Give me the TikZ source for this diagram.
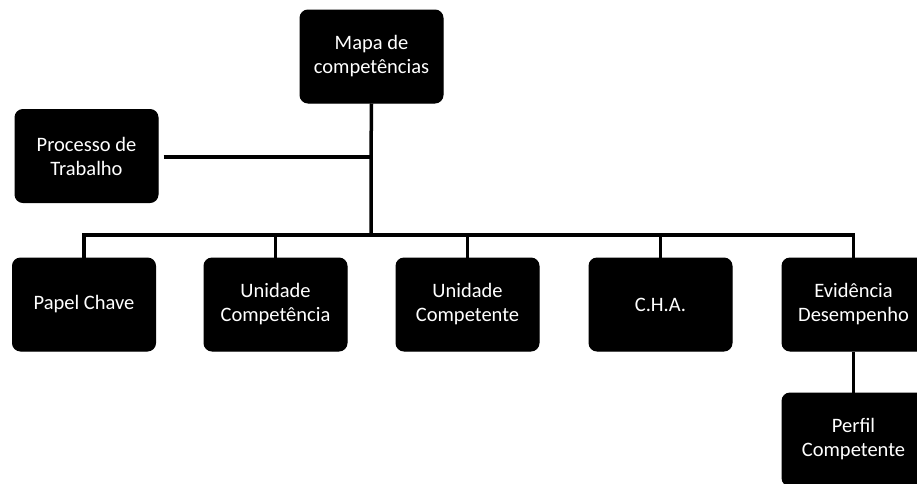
\documentclass[tikz,border=0pt]{standalone}
\usepackage{fontspec}
\setmainfont{Carlito}
\begin{document}
\begin{tikzpicture}[x=1pt,y=-1pt,
  box/.style={draw=black,fill=black,rounded corners=8pt,minimum width=143pt,minimum height=93pt,
    text=white,align=center,font=\fontsize{20.5}{24}\selectfont,inner sep=0pt,line width=1pt},
  conn/.style={line width=3.5pt,draw=black}]
\useasboundingbox (0,0) rectangle (917,483);
\begin{scope}
\clip (0,0) rectangle (917,483);
\node[box] (mapa) at (371.5,56.5) {Mapa de\\competências};
\node[box] (proc) at (86.5,156) {Processo de\\Trabalho};
\node[box] (papel) at (84,304.5) {Papel Chave};
\node[box] (ucomp) at (275.5,304.5) {Unidade\\Competência};
\node[box] (ucte) at (467.5,304.5) {Unidade\\Competente};
\node[box] (cha) at (660.5,304.5) {C.H.A.};
\node[box] (evid) at (853.5,304.5) {Evidência\\Desempenho};
\node[box] (perfil) at (853.5,439.5) {Perfil\\Competente};
\coordinate (j1) at (371,157);
\coordinate (j2) at (371,235);
\draw[conn] (mapa.south) -- (j1) -- (j2);
\draw[conn] (proc.east) ++(5,1) -- (j1);
\draw[conn] (papel.north) -- (papel.north |- j2) -- (evid.north |- j2) -- (evid.north);
\draw[conn] (ucomp.north) -- (ucomp.north |- j2);
\draw[conn] (ucte.north) -- (ucte.north |- j2);
\draw[conn] (cha.north) -- (cha.north |- j2);
\draw[conn] (evid.south) -- (perfil.north);
\end{scope}
\end{tikzpicture}
\end{document}
